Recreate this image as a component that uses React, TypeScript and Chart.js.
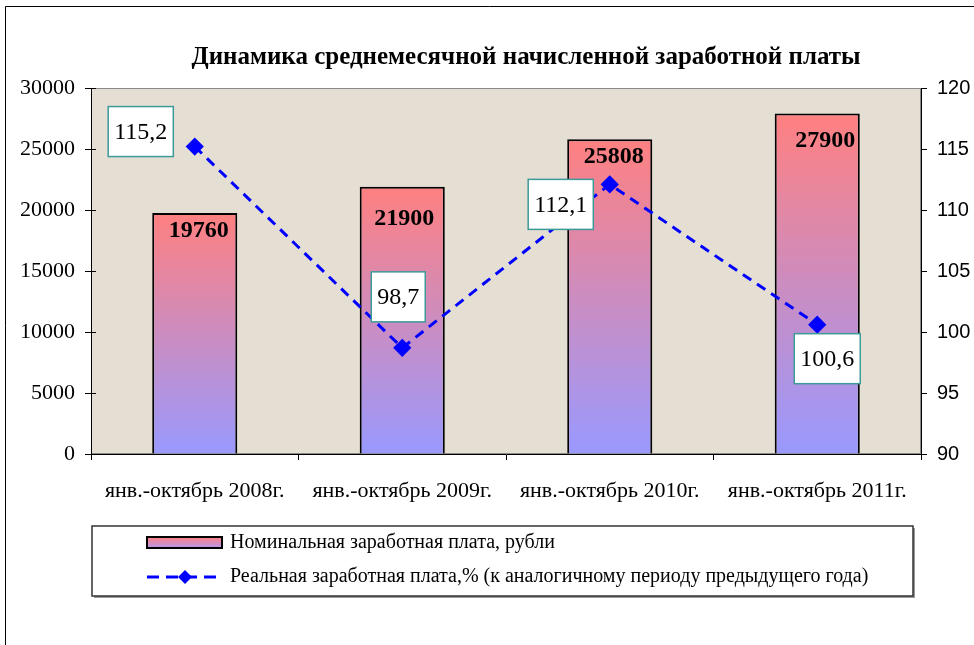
import React, { useEffect, useRef } from 'react';
import { Chart, registerables } from 'chart.js';

Chart.register(...registerables);

const chartTitle = 'Динамика среднемесячной начисленной заработной платы';
const categories = [
  'янв.-октябрь 2008г.',
  'янв.-октябрь 2009г.',
  'янв.-октябрь 2010г.',
  'янв.-октябрь 2011г.',
];
const nominalLabel = 'Номинальная заработная плата, рубли';
const nominalWage = [19760, 21900, 25808, 27900];
const realLabel = 'Реальная заработная плата,% (к аналогичному периоду предыдущего года)';
const realWage = [115.2, 98.7, 112.1, 100.6];
const leftAxis = { min: 0, max: 30000, step: 5000 };
const rightAxis = { min: 90, max: 120, step: 5 };

// label offsets (relative to each mark), style only
const realLabelOffsets = [
  [-54, -15],
  [-4, -51],
  [-49, 20],
  [10, 34],
];
const barLabelOffsets = [
  [4, 18],
  [2, 32],
  [4, 18],
  [8, 27],
];

const SERIF = '"Liberation Serif", "Times New Roman", serif';
const SANS = '"Liberation Sans", Arial, sans-serif';

const fmt = (v: number) => v.toFixed(1).replace('.', ',');

const drawDiamond = (ctx: CanvasRenderingContext2D, x: number, y: number, r: number) => {
  ctx.beginPath();
  ctx.moveTo(x, y - r);
  ctx.lineTo(x + r, y);
  ctx.lineTo(x, y + r);
  ctx.lineTo(x - r, y);
  ctx.closePath();
  ctx.fill();
};

const customPlugin = {
  id: 'customDecor',
  beforeDraw(chart: any) {
    const { ctx, chartArea: a, width, height } = chart;
    ctx.save();
    ctx.fillStyle = '#ffffff';
    ctx.fillRect(0, 0, width, height);
    // outer frame (top & left)
    ctx.strokeStyle = '#000';
    ctx.lineWidth = 1;
    ctx.beginPath();
    ctx.moveTo(5.5, height);
    ctx.lineTo(5.5, 6.5);
    ctx.lineTo(width, 6.5);
    ctx.stroke();
    // plot background
    ctx.fillStyle = '#E5DED2';
    ctx.fillRect(a.left, a.top, a.right - a.left, a.bottom - a.top);
    ctx.strokeStyle = '#8a8a8a';
    ctx.lineWidth = 1;
    ctx.strokeRect(a.left + 0.5, a.top + 0.5, a.right - a.left - 1, a.bottom - a.top - 1);
    // title
    ctx.fillStyle = '#000';
    ctx.font = `bold 25px ${SERIF}`;
    ctx.textAlign = 'center';
    ctx.textBaseline = 'middle';
    ctx.fillText(chartTitle, (a.left + a.right) / 2 + 20, 58);
    ctx.restore();
  },
  afterDatasetsDraw(chart: any) {
    const { ctx } = chart;
    ctx.save();
    // left axis ticks crossing the axis line
    const ys = chart.scales.y;
    const a = chart.chartArea;
    ctx.strokeStyle = '#000';
    ctx.lineWidth = 1;
    ys.ticks.forEach((t: any) => {
      const py = Math.round(ys.getPixelForValue(t.value)) + 0.5;
      ctx.beginPath();
      ctx.moveTo(a.left, py);
      ctx.lineTo(a.left + 5, py);
      ctx.stroke();
    });
    // bar value labels
    const barMeta = chart.getDatasetMeta(1);
    ctx.fillStyle = '#000';
    ctx.font = `bold 24px ${SERIF}`;
    ctx.textAlign = 'center';
    ctx.textBaseline = 'middle';
    barMeta.data.forEach((el: any, i: number) => {
      ctx.fillText(String(nominalWage[i]), el.x + barLabelOffsets[i][0], el.y + barLabelOffsets[i][1]);
    });
    // line value labels in boxes
    const lineMeta = chart.getDatasetMeta(0);
    ctx.font = `24px ${SERIF}`;
    lineMeta.data.forEach((el: any, i: number) => {
      const txt = fmt(realWage[i]);
      const w = ctx.measureText(txt).width + 12;
      const h = 50;
      const cx = el.x + realLabelOffsets[i][0];
      const cy = el.y + realLabelOffsets[i][1];
      ctx.fillStyle = '#ffffff';
      ctx.fillRect(cx - w / 2, cy - h / 2, w, h);
      ctx.strokeStyle = '#3C9A9A';
      ctx.lineWidth = 1.5;
      ctx.strokeRect(cx - w / 2, cy - h / 2, w, h);
      ctx.fillStyle = '#000';
      ctx.fillText(txt, cx, cy + 1);
    });
    ctx.restore();
  },
  afterDraw(chart: any) {
    const { ctx } = chart;
    ctx.save();
    const lx = 92, ly = 526, lw = 821, lh = 70;
    ctx.fillStyle = '#9a9a9a';
    ctx.fillRect(lx + 2, ly + 2, lw, lh);
    ctx.fillStyle = '#fff';
    ctx.fillRect(lx, ly, lw, lh);
    ctx.strokeStyle = '#333';
    ctx.lineWidth = 1.5;
    ctx.strokeRect(lx, ly, lw, lh);
    // item 1: bar swatch
    const g = ctx.createLinearGradient(0, 537, 0, 548);
    g.addColorStop(0, '#FF8080');
    g.addColorStop(1, '#B898F0');
    ctx.fillStyle = g;
    ctx.fillRect(147, 537, 75, 11);
    ctx.strokeStyle = '#000';
    ctx.lineWidth = 2;
    ctx.strokeRect(147, 537, 75, 11);
    ctx.fillStyle = '#000';
    ctx.font = `20px ${SERIF}`;
    ctx.textAlign = 'left';
    ctx.textBaseline = 'middle';
    ctx.fillText(chart.data.datasets[1].label, 230, 543);
    // item 2: dashed line + diamond
    ctx.strokeStyle = '#0000FF';
    ctx.lineWidth = 3;
    ctx.setLineDash([12, 7]);
    ctx.beginPath();
    ctx.moveTo(147, 577);
    ctx.lineTo(222, 577);
    ctx.stroke();
    ctx.setLineDash([]);
    ctx.fillStyle = '#0000FF';
    drawDiamond(ctx, 185, 577, 7);
    ctx.fillStyle = '#000';
    ctx.fillText(chart.data.datasets[0].label, 230, 577);
    ctx.restore();
  },
};

export default function App() {
  const canvasRef = useRef<HTMLCanvasElement | null>(null);

  useEffect(() => {
    document.body.style.margin = '0';
    const canvas = canvasRef.current;
    if (!canvas) return;
    const chart = new Chart(canvas, {
      type: 'bar',
      data: {
        labels: categories,
        datasets: [
          {
            type: 'line',
            label: realLabel,
            data: realWage,
            yAxisID: 'y1',
            borderColor: '#0000FF',
            borderWidth: 3,
            borderDash: [10, 7],
            pointStyle: 'rectRot',
            pointRadius: 7,
            pointBackgroundColor: '#0000FF',
            pointBorderColor: '#0000FF',
            tension: 0,
            fill: false,
            order: 1,
          } as any,
          {
            type: 'bar',
            label: nominalLabel,
            data: nominalWage,
            yAxisID: 'y',
            borderColor: '#000000',
            borderWidth: 2,
            barPercentage: 0.41,
            categoryPercentage: 1,
            order: 2,
            backgroundColor: (c: any) => {
              const ch = c.chart;
              if (!ch.chartArea || c.type !== 'data') return '#FF8080';
              const ys = ch.scales.y;
              const top = ys.getPixelForValue(c.raw);
              const bottom = ys.getPixelForValue(0);
              const gr = ch.ctx.createLinearGradient(0, top, 0, bottom);
              gr.addColorStop(0, '#FF8080');
              gr.addColorStop(1, '#9999FF');
              return gr;
            },
          } as any,
        ],
      },
      options: {
        responsive: false,
        animation: false,
        devicePixelRatio: 1,
        layout: { padding: { top: 88, left: 0, right: 0, bottom: 0 } },
        plugins: {
          legend: { display: false },
          title: { display: false },
          tooltip: { enabled: false },
        },
        scales: {
          x: {
            offset: true,
            grid: { offset: true, drawOnChartArea: false, tickLength: 6, color: '#000' },
            border: { color: '#000', width: 1 },
            ticks: { font: { family: SERIF, size: 22 }, color: '#000', padding: 18, maxRotation: 0, autoSkip: false },
            afterFit: (s: any) => { s.height = 191; },
          },
          y: {
            position: 'left',
            min: leftAxis.min,
            max: leftAxis.max,
            ticks: {
              stepSize: leftAxis.step,
              font: { family: SERIF, size: 22 },
              color: '#000',
              padding: 10,
              callback: (v: any) => String(v),
            },
            grid: { drawOnChartArea: false, tickLength: 6, color: '#000' },
            border: { color: '#000', width: 1 },
            afterFit: (s: any) => { s.width = 91; },
          },
          y1: {
            position: 'right',
            min: rightAxis.min,
            max: rightAxis.max,
            ticks: { stepSize: rightAxis.step, font: { family: SANS, size: 20 }, color: '#000', padding: 10 },
            grid: { drawOnChartArea: false, tickLength: 6, color: '#000' },
            border: { color: '#000', width: 1 },
            afterFit: (s: any) => { s.width = 53; },
          },
        },
      },
      plugins: [customPlugin],
    });
    return () => chart.destroy();
  }, []);

  return (
    <div style={{ width: 974, height: 645 }}>
      <canvas ref={canvasRef} width={974} height={645} style={{ display: 'block', width: 974, height: 645 }} />
    </div>
  );
}
